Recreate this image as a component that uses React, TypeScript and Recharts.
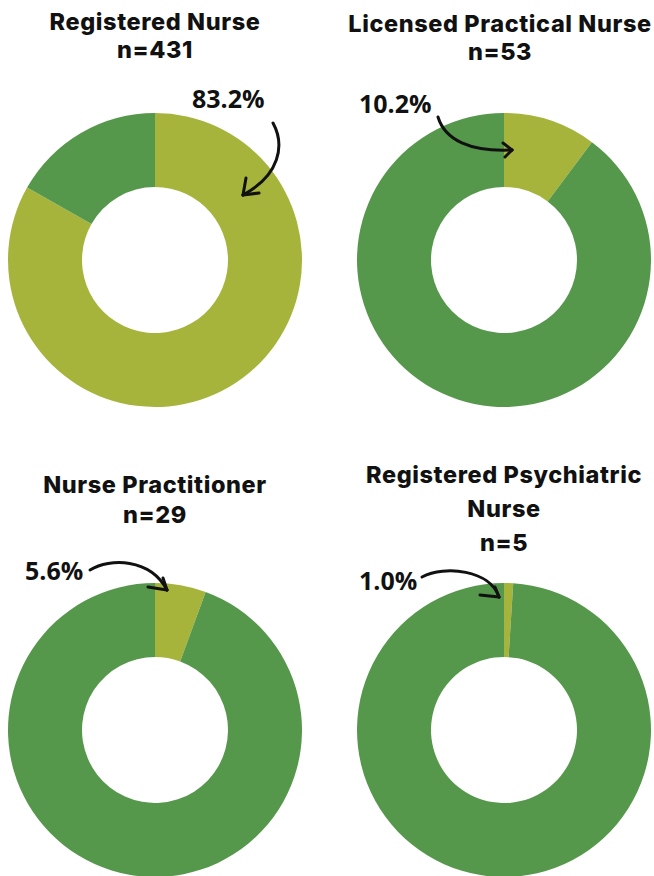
import React from 'react';
import { PieChart, Pie, Cell } from 'recharts';

// share of respondents in each role, and sample size per role
const roles = ['Registered Nurse', 'Licensed Practical Nurse', 'Nurse Practitioner', 'Registered Psychiatric Nurse'];
const sampleSizes = [431, 53, 29, 5];
const rolePercents = [83.2, 10.2, 5.6, 1.0];

const ROLE_COLOR = '#A6B43B';
const REST_COLOR = '#56984B';

// per-panel layout: position, title box, and where the hand-drawn callout sits relative to the pie centre
const panels = [
  {
    left: 0, top: 0, cx: 155, cy: 260, titleTop: 8, titleCx: 155, titleWidth: 320, lineHeight: 28,
    text: { dx: 37, dy: -152 },
    arrow: { d: 'M118 -137 C130 -115 125 -85 88 -65', arms: [[91, -82], [104, -67]] },
  },
  {
    left: 327, top: 0, cx: 177, cy: 260, titleTop: 10, titleCx: 173, titleWidth: 322, lineHeight: 28,
    text: { dx: -145, dy: -147 },
    arrow: { d: 'M-66 -143 C-59 -120 -34 -108 8 -110', arms: [[-1, -117], [1, -103]] },
  },
  {
    left: 0, top: 438, cx: 155, cy: 292, titleTop: 32, titleCx: 155, titleWidth: 320, lineHeight: 30,
    text: { dx: -130, dy: -150 },
    arrow: { d: 'M-65 -160 C-45 -172 -5 -172 12 -140', arms: [[-7, -143], [8, -152]] },
  },
  {
    left: 327, top: 438, cx: 177, cy: 292, titleTop: 20, titleCx: 177, titleWidth: 300, lineHeight: 34,
    text: { dx: -145, dy: -140 },
    arrow: { d: 'M-82 -153 C-59 -165 -14 -160 -5 -133', arms: [[-24, -135], [-9, -143]] },
  },
];

const TITLE_FONT = 'Inter, sans-serif';
const LABEL_FONT = '"Open Sans", sans-serif';

const makeLabel = (pct: number, layout: typeof panels[number]) => (props: any) => {
  const { index, cx, cy } = props;
  if (index !== 0) return null;
  const tip = layout.arrow.d.split(' ').slice(-2).map(Number);
  return (
    <g>
      <text
        x={cx + layout.text.dx}
        y={cy + layout.text.dy}
        fontFamily={LABEL_FONT}
        fontWeight={700}
        fontSize={25}
        fill="#111"
      >
        {`${pct.toFixed(1)}%`}
      </text>
      <g transform={`translate(${cx},${cy})`} fill="none" stroke="#111" strokeWidth={3} strokeLinecap="round">
        <path d={layout.arrow.d} />
        {layout.arrow.arms.map(([ax, ay], i) => (
          <line key={i} x1={tip[0]} y1={tip[1]} x2={ax} y2={ay} />
        ))}
      </g>
    </g>
  );
};

const RoleDonut = ({ i }: { i: number }) => {
  const layout = panels[i];
  const pct = rolePercents[i];
  const data = [
    { name: roles[i], value: pct },
    { name: 'Other roles', value: +(100 - pct).toFixed(1) },
  ];
  return (
    <div style={{ position: 'absolute', left: layout.left, top: layout.top, width: 327, height: 438 }}>
      <PieChart
        width={327}
        height={438}
        margin={{ top: 0, right: 0, bottom: 0, left: 0 }}
        style={{ position: 'absolute', left: 0, top: 0 }}
      >
        <Pie
          data={data}
          dataKey="value"
          cx={layout.cx}
          cy={layout.cy}
          innerRadius={73}
          outerRadius={147}
          startAngle={90}
          endAngle={-270}
          stroke="none"
          labelLine={false}
          label={makeLabel(pct, layout)}
          isAnimationActive={false}
        >
          <Cell fill={ROLE_COLOR} />
          <Cell fill={REST_COLOR} />
        </Pie>
      </PieChart>
      <div
        style={{
          position: 'absolute',
          top: layout.titleTop,
          left: layout.titleCx - layout.titleWidth / 2,
          width: layout.titleWidth,
          textAlign: 'center',
          fontFamily: TITLE_FONT,
          fontWeight: 800,
          fontSize: 23.5,
          letterSpacing: 0.6,
          lineHeight: `${layout.lineHeight}px`,
          color: '#111',
        }}
      >
        <div>{roles[i]}</div>
        <div>n={sampleSizes[i]}</div>
      </div>
    </div>
  );
};

export default function App() {
  return (
    <div
      style={{
        position: 'absolute',
        left: 0,
        top: 0,
        width: 654,
        height: 876,
        overflow: 'hidden',
        background: '#fff',
      }}
    >
      {roles.map((_, i) => (
        <RoleDonut key={i} i={i} />
      ))}
    </div>
  );
}
